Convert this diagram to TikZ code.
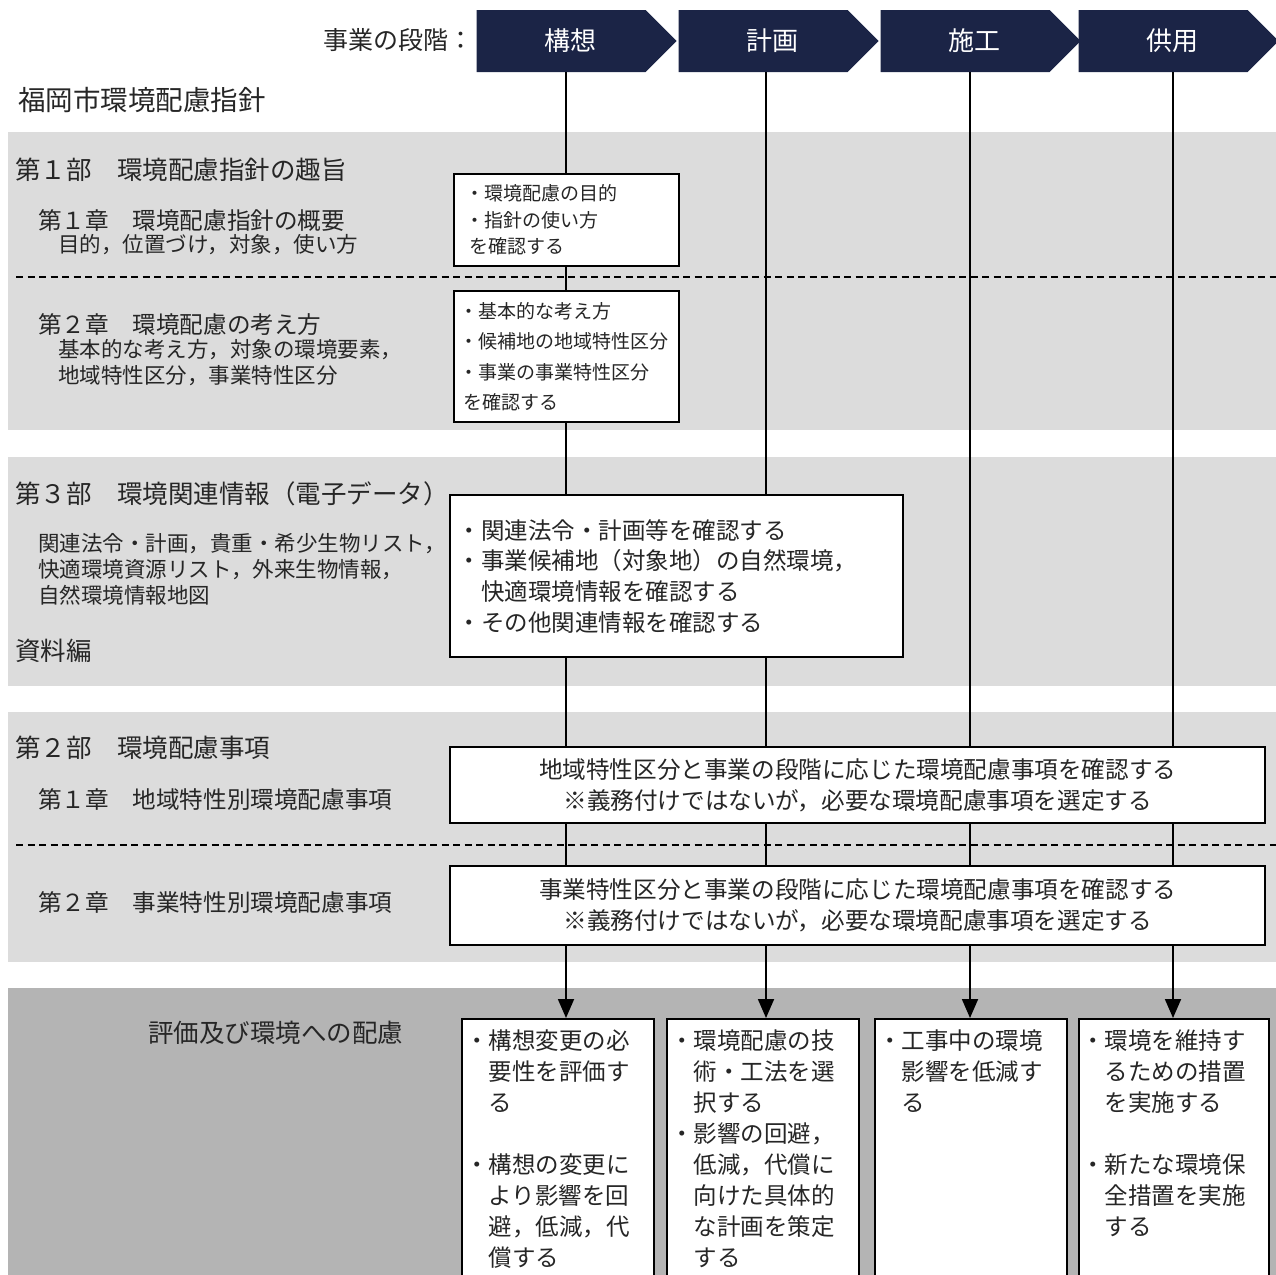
\documentclass[tikz,border=0pt]{standalone}
\usepackage{fontspec}
\setmainfont{Noto Sans CJK JP}
\usepackage{tikz}
\usetikzlibrary{arrows.meta,positioning,shapes.symbols}
\definecolor{navy}{RGB}{27,36,70}
\definecolor{bandl}{RGB}{220,220,220}
\definecolor{bandd}{RGB}{180,180,180}
\definecolor{ink}{RGB}{38,38,38}
\newcommand\fsz[2]{\fontsize{#1}{#2}\selectfont}
\newcommand\bul{\makebox[0.8em][r]{・}}
\newcommand\bulsp{\hspace*{0.8em}}
\newcommand\stg[1]{\hspace*{18pt}#1}

\begin{document}
\begin{tikzpicture}[x=1pt, y=-1pt, every node/.style={text=ink, inner sep=0pt},
  stage/.style={signal, signal to=east, signal pointer angle=90, fill=navy,
    text=white, minimum width=200pt, minimum height=62pt, font=\fsz{26}{30}},
  part/.style={anchor=west, font=\fsz{25.5}{30}},
  chap/.style={anchor=west, font=\fsz{23.6}{30}},
  note/.style={anchor=west, align=left, font=\fsz{21.5}{26}},
  box/.style={draw=black, line width=2.4pt, fill=white, anchor=north west, align=left},
  vline/.style={line width=1.8pt},
  sep/.style={line width=2.2pt, dash pattern=on 7pt off 4.5pt}]
\useasboundingbox (0,0) rectangle (1276,1274);
% bands
\fill[bandl] (8,132) rectangle (1276,430);
\fill[bandl] (8,457) rectangle (1276,686);
\fill[bandl] (8,712) rectangle (1276,962);
\fill[bandd] (8,988) rectangle (1276,1290);
\draw[sep] (16,277) -- (1276,277);
\draw[sep] (16,845) -- (1276,845);
% stages
\node[anchor=east, font=\fsz{25}{30}] (hd) at (474,40) {事業の段階：};
\node[stage] (k1) at (561,41) {\stg{構想}};
\node[stage] (k2) at (763,41) {\stg{計画}};
\node[stage] (k3) at (965,41) {\stg{施工}};
\node[stage] (k4) at (1163,41) {\stg{供用}};
\coordinate (c1) at (566,0);
\coordinate (c2) at (766,0);
\coordinate (c3) at (970,0);
\coordinate (c4) at (1173,0);
\node[anchor=west, font=\fsz{27.5}{30}] (ttl) at (18,100) {福岡市環境配慮指針};
% left column
\node[part] (p1) at (15,170) {第１部　環境配慮指針の趣旨};
\node[chap] (p1c1) at (38,220) {第１章　環境配慮指針の概要};
\node[note] (p1n1) at (58,245) {目的，位置づけ，対象，使い方};
\node[chap] (p1c2) at (38,325) {第２章　環境配慮の考え方};
\node[note] (p1n2) at (58,363) {基本的な考え方，対象の環境要素，\\地域特性区分，事業特性区分};
\node[part] (p3) at (15,494) {第３部　環境関連情報（電子データ）};
\node[note] (p3n) at (38,569) {関連法令・計画，貴重・希少生物リスト，\\快適環境資源リスト，外来生物情報，\\自然環境情報地図};
\node[part] (ap) at (15,651) {資料編};
\node[part] (p2) at (15,748) {第２部　環境配慮事項};
\node[chap] (p2c1) at (38,799) {第１章　地域特性別環境配慮事項};
\node[chap] (p2c2) at (38,902) {第２章　事業特性別環境配慮事項};
\node[part] (ev) at (148,1033) {評価及び環境への配慮};
% boxes
\node[box, minimum width=225pt, minimum height=92pt, text width=195pt,
  font=\fsz{19}{26.5}] (ba) at (453,173)
  {\bul 環境配慮の目的\\\bul 指針の使い方\\を確認する};
\node[box, minimum width=225pt, minimum height=131pt, text width=207pt,
  font=\fsz{19}{30.5}] (bb) at (453,290)
  {\bul 基本的な考え方\\\bul 候補地の地域特性区分\\\bul 事業の事業特性区分\\を確認する};
\node[box, minimum width=453pt, minimum height=162pt, text width=429pt,
  font=\fsz{23.5}{30.7}] (bc) at (449,494)
  {\bul 関連法令・計画等を確認する\\\bul 事業候補地（対象地）の自然環境，\\\bulsp 快適環境情報を確認する\\\bul その他関連情報を確認する\\[6pt]};
\node[box, align=center, minimum width=815pt, minimum height=76pt, text width=790pt,
  font=\fsz{23.6}{31}] (bd) at (449,746)
  {地域特性区分と事業の段階に応じた環境配慮事項を確認する\\※義務付けではないが，必要な環境配慮事項を選定する};
\node[box, align=center, minimum width=815pt, minimum height=79pt, text width=790pt,
  font=\fsz{23.6}{31}] (be) at (449,865)
  {事業特性区分と事業の段階に応じた環境配慮事項を確認する\\※義務付けではないが，必要な環境配慮事項を選定する};
% bottom boxes
\tikzset{fbox/.style={box, minimum width=192pt, text width=177pt, inner ysep=11pt,
  font=\fsz{23.5}{31}}}
\node[fbox] (f1) at (461,1018) {\parbox[t][270pt][t]{177pt}{\bul 構想変更の必\\\bulsp 要性を評価す\\\bulsp る\\[31pt]\bul 構想の変更に\\\bulsp より影響を回\\\bulsp 避，低減，代\\\bulsp 償する}};
\node[fbox] (f2) at (666,1018) {\parbox[t][270pt][t]{177pt}{\bul 環境配慮の技\\\bulsp 術・工法を選\\\bulsp 択する\\\bul 影響の回避，\\\bulsp 低減，代償に\\\bulsp 向けた具体的\\\bulsp な計画を策定\\\bulsp する}};
\node[fbox] (f3) at (874,1018) {\parbox[t][270pt][t]{177pt}{\bul 工事中の環境\\\bulsp 影響を低減す\\\bulsp る}};
\node[fbox, minimum width=190pt] (f4) at (1078,1018) {\parbox[t][270pt][t]{177pt}{\bul 環境を維持す\\\bulsp るための措置\\\bulsp を実施する\\[31pt]\bul 新たな環境保\\\bulsp 全措置を実施\\\bulsp する}};
% stage lines
\foreach \c/\a/\b in {c1/k1/ba, c1/ba/bb, c1/bb/bc, c1/bc/bd, c1/bd/be,
    c2/k2/bc, c2/bc/bd, c2/bd/be, c3/k3/bd, c3/bd/be, c4/k4/bd, c4/bd/be}
  \draw[vline] (\c |- \a.south) -- (\c |- \b.north);
\foreach \c/\f in {c1/f1, c2/f2, c3/f3, c4/f4}
  \draw[vline, -{Triangle[length=19pt,width=16pt]}] (\c |- be.south) -- (\c |- \f.north);
\end{tikzpicture}
\end{document}
